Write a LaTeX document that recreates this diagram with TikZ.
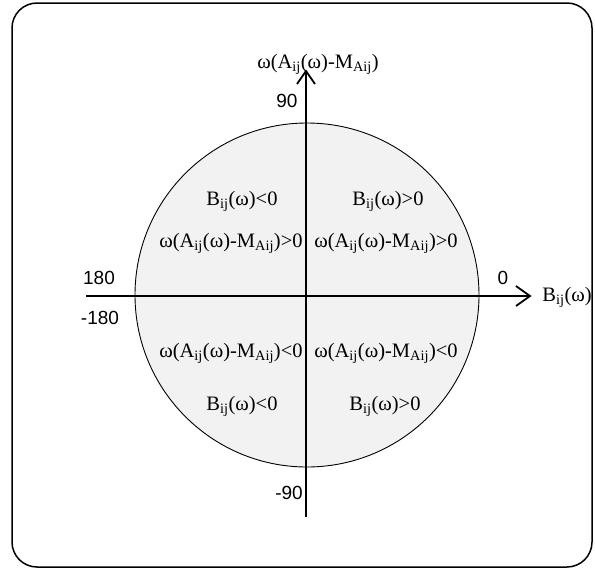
\documentclass[tikz,border=0pt]{standalone}
\usepackage{fontspec}
\setmainfont{Liberation Serif}
\newfontfamily\arialf{Liberation Sans}
\newcommand{\sbs}[1]{\textsubscript{#1}}
\begin{document}
\begin{tikzpicture}[x=1pt,y=-1pt,
  qlabel/.style={font=\fontsize{20.5}{24}\selectfont, inner sep=0pt},
  nlabel/.style={font=\arialf\fontsize{19}{22}\selectfont, inner sep=0pt},
  axis/.style={line width=1.4pt},
  chevron/.style={line width=1.8pt, line join=miter}]
\useasboundingbox (0,0) rectangle (595,571);
\draw[line width=1.5pt, rounded corners=25pt] (12,3) rectangle (592,567);
\draw[fill={rgb,255:red,242;green,242;blue,242}, line width=0.9pt] (307,295) circle (172);
\coordinate (xl) at (86,296);
\coordinate (xr) at (530,296);
\coordinate (yb) at (306,517);
\coordinate (yt) at (306,71);
\draw[axis] (xl) -- (xr);
\draw[axis] (yb) -- (yt);
\draw[chevron] ([shift={(-14,-10)}]xr) -- (xr) -- ([shift={(-14,10)}]xr);
\draw[chevron] ([shift={(-9,13)}]yt) -- (yt) -- ([shift={(9,13)}]yt);
\node[qlabel] (ylab) at (318,64) {ω(A\sbs{ij}(ω)-M\sbs{Aij})};
\node[qlabel] (xlab) at (567,297) {B\sbs{ij}(ω)};
\node[nlabel] (n90) at (287,101) {90};
\node[nlabel] (n180) at (99,278) {180};
\node[nlabel] (nm180) at (100,318) {-180};
\node[nlabel] (n0) at (503,278) {0};
\node[nlabel] (nm90) at (289,493) {-90};
\node[qlabel] (q1a) at (242,201) {B\sbs{ij}(ω)<0};
\node[qlabel] (q2a) at (388,201) {B\sbs{ij}(ω)>0};
\node[qlabel] (q1b) at (231,243) {ω(A\sbs{ij}(ω)-M\sbs{Aij})>0};
\node[qlabel] (q2b) at (386,243) {ω(A\sbs{ij}(ω)-M\sbs{Aij})>0};
\node[qlabel] (q3a) at (231,353) {ω(A\sbs{ij}(ω)-M\sbs{Aij})<0};
\node[qlabel] (q4a) at (386,353) {ω(A\sbs{ij}(ω)-M\sbs{Aij})<0};
\node[qlabel] (q3b) at (242,406) {B\sbs{ij}(ω)<0};
\node[qlabel] (q4b) at (385,406) {B\sbs{ij}(ω)>0};
\end{tikzpicture}
\end{document}
